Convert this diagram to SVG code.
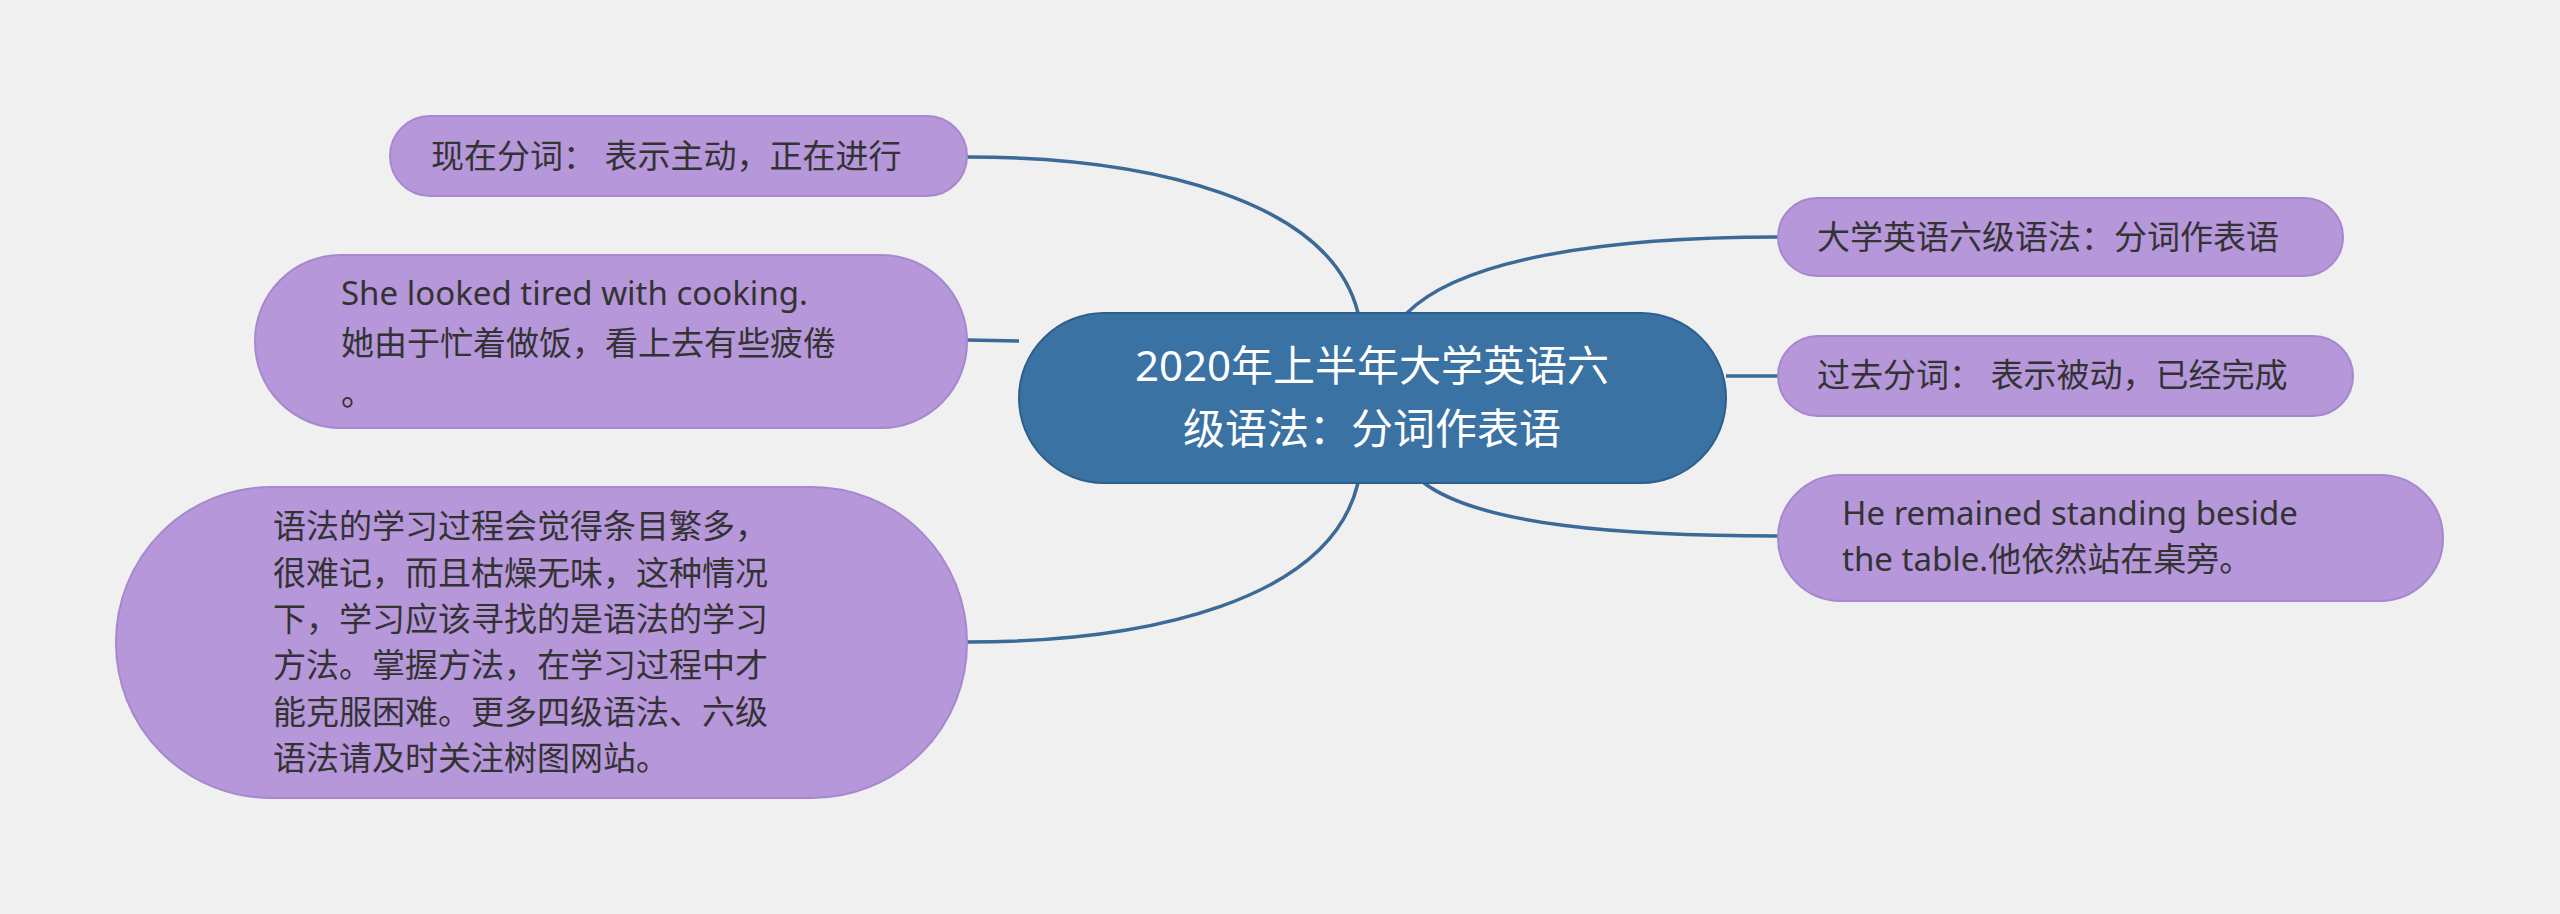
<svg xmlns="http://www.w3.org/2000/svg" width="2560" height="914" viewBox="0 0 2560 914">
<style>
.n{fill:#b697da;stroke:#a688cf;stroke-width:2}
.t{font-family:"Noto Sans","Noto Sans CJK SC",sans-serif;font-size:33px;fill:#333}
.c{fill:none;stroke:#3b6a98;stroke-width:3.5}
</style>
<rect width="2560" height="914" fill="#f0f0f0"/>
<g id="connectors">
<path class="c" d="M1358,313 C1330,200 1150,157 967,157"/>
<path class="c" d="M1019,341 L967,340"/>
<path class="c" d="M1358,483 C1330,600 1150,642 967,642"/>
<path class="c" d="M1407,313 C1460,260 1600,237 1778,237"/>
<path class="c" d="M1726,376 L1778,376"/>
<path class="c" d="M1424,483 C1480,525 1620,536 1778,536"/>
</g>
<g id="center">
<rect x="1019" y="313" width="707" height="170" rx="85" fill="#3b72a4" stroke="#2d5f8e" stroke-width="2"/>
<text x="1372" y="381" text-anchor="middle" font-family="Noto Sans,Noto Sans CJK SC,sans-serif" font-size="42" fill="#fff">2020年上半年大学英语六</text>
<text x="1372" y="444" text-anchor="middle" font-family="Noto Sans,Noto Sans CJK SC,sans-serif" font-size="42" fill="#fff">级语法：分词作表语</text>
</g>
<g id="l1"><rect class="n" x="390" y="116" width="577" height="80" rx="40"/>
<text class="t" x="431" y="168">现在分词： 表示主动，正在进行</text></g>
<g id="l2"><rect class="n" x="255" y="255" width="712" height="173" rx="86"/>
<text class="t" x="341" y="305">She looked tired with cooking.</text>
<text class="t" x="341" y="355">她由于忙着做饭，看上去有些疲倦</text>
<text class="t" x="341" y="405">。</text></g>
<g id="l3"><rect class="n" x="116" y="487" width="851" height="311" rx="155"/>
<text class="t" x="273" y="538">语法的学习过程会觉得条目繁多，</text>
<text class="t" x="273" y="585">很难记，而且枯燥无味，这种情况</text>
<text class="t" x="273" y="631">下，学习应该寻找的是语法的学习</text>
<text class="t" x="273" y="677">方法。掌握方法，在学习过程中才</text>
<text class="t" x="273" y="724">能克服困难。更多四级语法、六级</text>
<text class="t" x="273" y="770">语法请及时关注树图网站。</text></g>
<g id="r1"><rect class="n" x="1778" y="198" width="565" height="78" rx="39"/>
<text class="t" x="1817" y="249">大学英语六级语法：分词作表语</text></g>
<g id="r2"><rect class="n" x="1778" y="336" width="575" height="80" rx="40"/>
<text class="t" x="1817" y="387">过去分词： 表示被动，已经完成</text></g>
<g id="r3"><rect class="n" x="1778" y="475" width="665" height="126" rx="63"/>
<text class="t" x="1842" y="525">He remained standing beside</text>
<text class="t" x="1842" y="571">the table.他依然站在桌旁。</text></g>
</svg>
